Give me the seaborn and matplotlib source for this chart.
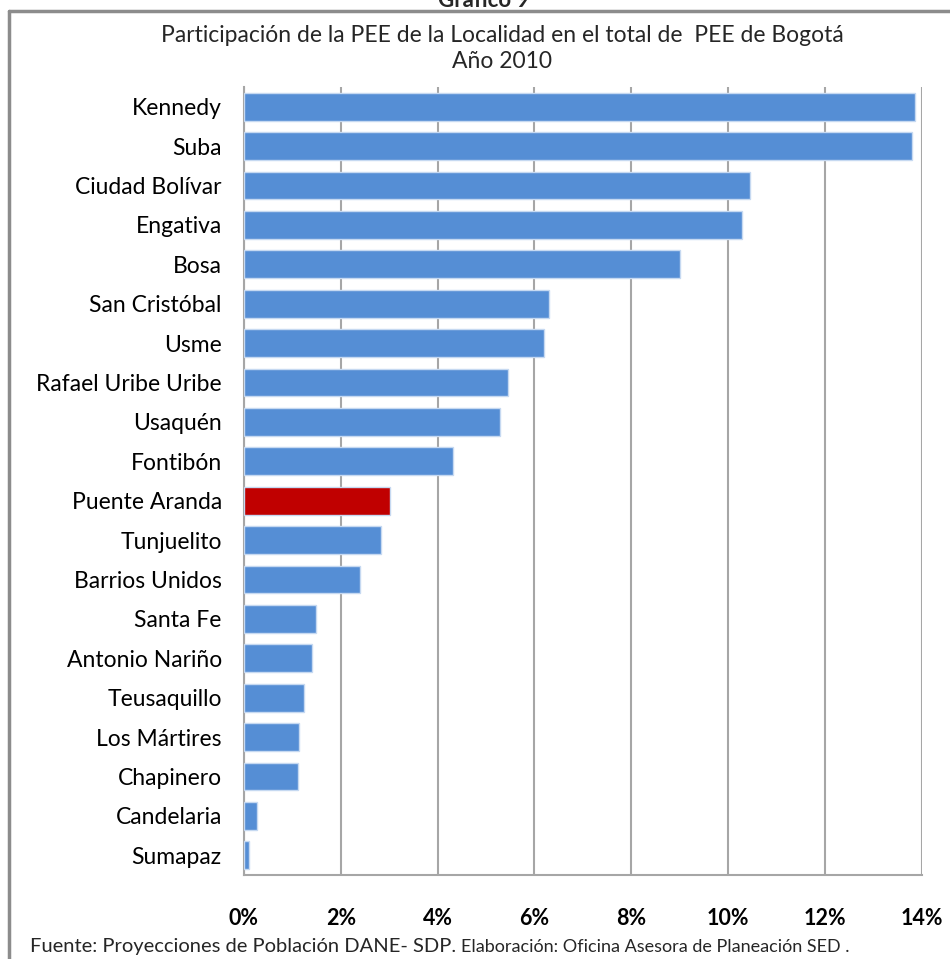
import matplotlib
matplotlib.use('Agg')
import seaborn as sns
import numpy as np
import pandas as pd
import matplotlib.pyplot as plt
from matplotlib.lines import Line2D
from matplotlib.ticker import FuncFormatter

localidades = ["Kennedy", "Suba", "Ciudad Bolívar", "Engativa", "Bosa", "San Cristóbal",
               "Usme", "Rafael Uribe Uribe", "Usaquén", "Fontibón", "Puente Aranda",
               "Tunjuelito", "Barrios Unidos", "Santa Fe", "Antonio Nariño", "Teusaquillo",
               "Los Mártires", "Chapinero", "Candelaria", "Sumapaz"]
participacion = [13.87, 13.80, 10.46, 10.30, 9.01, 6.30, 6.20, 5.46, 5.30, 4.31,
                 3.02, 2.84, 2.40, 1.48, 1.41, 1.25, 1.14, 1.11, 0.26, 0.10]
resaltada = "Puente Aranda"
x_ticks = [0, 2, 4, 6, 8, 10, 12, 14]

sns.set_style("white")
plt.rcParams['font.family'] = ['Lato', 'DejaVu Sans']

df = pd.DataFrame({"localidad": localidades, "pee": participacion})
palette = {n: ("#C00000" if n == resaltada else "#558ED5") for n in localidades}

fig = plt.figure(figsize=(9.5, 9.59), dpi=100)
ax = fig.add_axes([244 / 950, 1 - 875 / 959, (921.5 - 244) / 950, (875 - 87) / 959])

sns.barplot(data=df, x="pee", y="localidad", hue="localidad", palette=palette,
            legend=False, width=0.71, edgecolor="#C6D9F1", linewidth=1.0,
            saturation=1, ax=ax, zorder=3)

ax.set_xlim(0, 14)
ax.set_ylim(len(localidades) - 0.5, -0.5)
ax.set_xticks(x_ticks)
ax.xaxis.set_major_formatter(FuncFormatter(lambda v, p: f"{v:.0f}%"))
ax.grid(axis="x", color="#A6A6A6", linewidth=1.5, zorder=0)
ax.set_axisbelow(True)
ax.set_xlabel("")
ax.set_ylabel("")

for s in ["top", "right"]:
    ax.spines[s].set_visible(False)
for s in ["left", "bottom"]:
    ax.spines[s].set_color("#A6A6A6")
    ax.spines[s].set_linewidth(1.5)

ax.tick_params(axis="x", length=6, width=1.2, color="#A6A6A6", pad=18,
               labelsize=15.5, labelcolor="black")
ax.tick_params(axis="y", which="major", length=0, pad=16, labelsize=16.5, labelcolor="black")
ax.set_yticks(np.arange(-0.5, len(localidades), 1.0), minor=True)
ax.tick_params(axis="y", which="minor", length=6, width=1.2, color="#A6A6A6")
for lbl in ax.get_xticklabels():
    lbl.set_fontweight("bold")

# Excel-style frame, cut at the right and bottom
fig.add_artist(Line2D([9 / 950, 1.0], [1 - 11 / 959, 1 - 11 / 959], color="#8C8C8C", linewidth=2.5))
fig.add_artist(Line2D([9 / 950, 9 / 950], [0.0, 1 - 11 / 959], color="#8C8C8C", linewidth=2.5))

fig.text(484 / 950, 1 - 7 / 959, "Gráfico 9", ha="center", va="baseline",
         fontsize=16, fontweight="bold")
fig.text(502 / 950, 1 - 35 / 959, "Participación de la PEE de la Localidad en el total de  PEE de Bogotá",
         ha="center", va="center", fontsize=16.5)
fig.text(502 / 950, 1 - 62 / 959, "Año 2010", ha="center", va="center", fontsize=16.5)

t1 = fig.text(30 / 950, 1 - 952 / 959, "Fuente: Proyecciones de Población DANE- SDP. ",
              ha="left", va="baseline", fontsize=14.5)
fig.canvas.draw()
bb = t1.get_window_extent()
fig.text(bb.x1 / 950 / (fig.dpi / 100), 1 - 952 / 959,
         "Elaboración: Oficina Asesora de Planeación SED .",
         ha="left", va="baseline", fontsize=13)

fig.savefig("out.png", dpi=100)
